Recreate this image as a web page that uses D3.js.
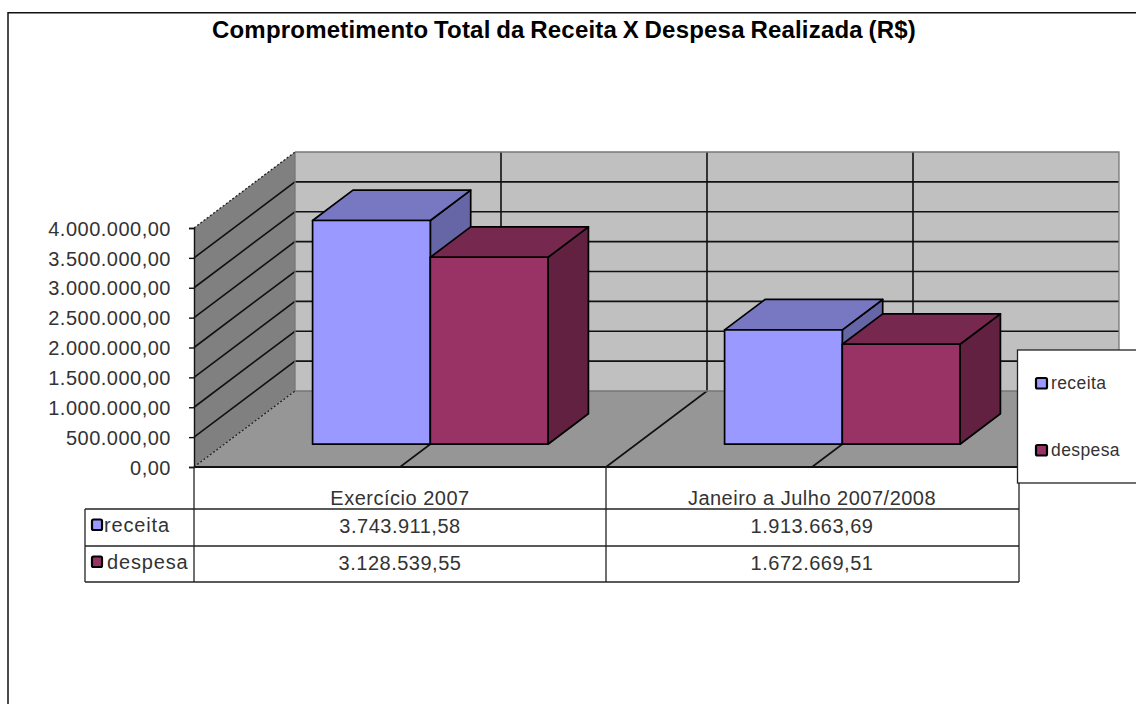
<!DOCTYPE html>
<html>
<head>
<meta charset="utf-8">
<script src="https://cdnjs.cloudflare.com/ajax/libs/d3/7.8.5/d3.min.js"></script>
<style>
  html, body { margin: 0; padding: 0; background: #fff; }
  svg { display: block; }
  text { font-family: "Liberation Sans", Arial, sans-serif; fill: #333; }
</style>
</head>
<body>
<svg id="chart" width="1136" height="704"></svg>
<script>
const title = 'Comprometimento Total da Receita X Despesa Realizada (R$)';
const categories = ['Exercício 2007', 'Janeiro a Julho 2007/2008'];
const seriesNames = ['receita', 'despesa'];
const receita = [3743911.58, 1913663.69];
const despesa = [3128539.55, 1672669.51];
const yTicks = [0, 500000, 1000000, 1500000, 2000000, 2500000, 3000000, 3500000, 4000000];

const faces = {
  receita: { front: '#9999ff', top: '#7777c2', side: '#6666a6', swatch: '#9999ff' },
  despesa: { front: '#993366', top: '#76284f', side: '#622141', swatch: '#993366' }
};

const svg = d3.select('#chart');
const fmt = new Intl.NumberFormat('pt-BR', { minimumFractionDigits: 2, maximumFractionDigits: 2 });

// scales
const y = d3.scaleLinear().domain([0, 4000000]).range([467, 228]);
const x = d3.scaleBand().domain(categories).range([194, 1018]);
const xSeries = d3.scaleBand().domain(seriesNames).range([0, x.bandwidth()]).paddingOuter(0.75).paddingInner(0);
// depth: 0 = front of the floor, 1 = back wall
const depthX = d3.scaleLinear().domain([0, 1]).range([0, 101]);
const depthY = d3.scaleLinear().domain([0, 1]).range([0, -76]);

// x pos, value and depth to screen
const pt = (px, v, d) => [px + depthX(d), y(v) + depthY(d)];
const poly = (g, pts, fill, stroke, width) => g.append('polygon')
  .attr('points', pts.map(p => p.join(',')).join(' '))
  .attr('fill', fill)
  .attr('stroke', stroke || 'none')
  .attr('stroke-width', width || 0)
  .attr('stroke-linejoin', 'round');

// outer frame
svg.append('path').attr('d', 'M8,704V12.7H1136').attr('fill', 'none').attr('stroke', '#111').attr('stroke-width', 1.5);

svg.append('text')
  .attr('x', 564).attr('y', 38)
  .attr('text-anchor', 'middle')
  .attr('font-size', 24).attr('font-weight', 'bold')
  .attr('letter-spacing', 0.2).attr('word-spacing', -1.2)
  .style('fill', '#000')
  .text(title);

// walls and floor
const left = x.range()[0], right = x.range()[1], vMax = y.domain()[1];
const walls = svg.append('g');
poly(walls, [pt(left, 0, 1), pt(right, 0, 1), pt(right, vMax, 1), pt(left, vMax, 1)], '#c0c0c0');
poly(walls, [pt(left, 0, 0), pt(left, 0, 1), pt(left, vMax, 1), pt(left, vMax, 0)], '#808080');
poly(walls, [pt(left, 0, 0), pt(right, 0, 0), pt(right, 0, 1), pt(left, 0, 1)], '#969696');

// gridlines, skipping the zero line
const line = d3.line();
const grid = svg.append('g').attr('fill', 'none').attr('stroke', '#111').attr('stroke-width', 1.6);
yTicks.slice(1, -1).forEach(t => {
  grid.append('path').attr('d', line([pt(left, t, 0), pt(left, t, 1), pt(right, t, 1)]));
});

// vertical grid lines on the back wall and floor lines
const xMarks = [];
categories.forEach(c => { xMarks.push(x(c) + x.bandwidth() / 2); xMarks.push(x(c) + x.bandwidth()); });
xMarks.pop();
xMarks.forEach(m => {
  grid.append('path').attr('d', line([pt(m, 0, 0), pt(m, 0, 1), pt(m, vMax, 1)]));
});

// outline of the walls, dashed on the diagonals
const edge = svg.append('g').attr('fill', 'none').attr('stroke', '#777').attr('stroke-width', 1.3);
edge.append('path').attr('d', line([pt(left, vMax, 1), pt(right, vMax, 1), pt(right, 0, 1)]));
edge.append('path').attr('d', line([pt(left, vMax, 1), pt(left, 0, 1), pt(right, 0, 1)]));
const dashed = svg.append('g').attr('fill', 'none').attr('stroke', '#222').attr('stroke-width', 1.3).attr('stroke-dasharray', '2,2');
dashed.append('path').attr('d', line([pt(left, vMax, 0), pt(left, vMax, 1)]));
dashed.append('path').attr('d', line([pt(left, 0, 0), pt(left, 0, 1)]));

// bars, back to front, left to right
const bars = svg.append('g');
const zFront = 0.3, zBack = 0.7;
categories.forEach((c, i) => {
  seriesNames.forEach(s => {
    const v = (s === 'receita' ? receita : despesa)[i];
    const x0 = x(c) + xSeries(s), x1 = x0 + xSeries.bandwidth();
    const g = bars.append('g');
    poly(g, [pt(x1, 0, zFront), pt(x1, 0, zBack), pt(x1, v, zBack), pt(x1, v, zFront)], faces[s].side, '#000', 1.7);
    poly(g, [pt(x0, v, zFront), pt(x1, v, zFront), pt(x1, v, zBack), pt(x0, v, zBack)], faces[s].top, '#000', 1.7);
    poly(g, [pt(x0, 0, zFront), pt(x1, 0, zFront), pt(x1, v, zFront), pt(x0, v, zFront)], faces[s].front, '#000', 1.7);
  });
});

// value axis
const yAxis = d3.axisLeft(y).tickValues(yTicks).tickFormat(d => fmt.format(d)).tickSize(5).tickPadding(18);
const axisG = svg.append('g').attr('transform', 'translate(' + left + ',0)').call(yAxis);
axisG.selectAll('text')
  .attr('font-size', 20).attr('letter-spacing', 0.5)
  .attr('dy', '0.36em')
  .style('font-family', '"Liberation Sans", Arial, sans-serif');
axisG.selectAll('line, path').attr('stroke', '#111').attr('stroke-width', 1.4);

// data table
const rowY = d3.scaleOrdinal().domain(['head', ...seriesNames]).range([467, 509, 546]);
const rowH = { head: 42, receita: 37, despesa: 36 };
const table = svg.append('g').attr('font-size', 20).attr('letter-spacing', 0.5);
const tableLines = table.append('g').attr('stroke', '#222').attr('stroke-width', 1.3).attr('fill', 'none');
const tableBottom = rowY('despesa') + rowH.despesa;
const keyLeft = 85;
tableLines.append('line').attr('x1', left).attr('x2', right + 1).attr('y1', 467).attr('y2', 467).attr('stroke-width', 1.8).attr('stroke', '#111');
tableLines.append('line').attr('x1', keyLeft).attr('x2', right + 1).attr('y1', rowY('receita')).attr('y2', rowY('receita'));
tableLines.append('line').attr('x1', keyLeft).attr('x2', right + 1).attr('y1', rowY('despesa')).attr('y2', rowY('despesa'));
tableLines.append('line').attr('x1', keyLeft).attr('x2', right + 1).attr('y1', tableBottom).attr('y2', tableBottom);
tableLines.append('line').attr('x1', keyLeft).attr('x2', keyLeft).attr('y1', rowY('receita')).attr('y2', tableBottom);
[left, x(categories[1]), right + 1].forEach(v => {
  tableLines.append('line').attr('x1', v).attr('x2', v).attr('y1', 467).attr('y2', tableBottom);
});
categories.forEach((c, i) => {
  table.append('text').attr('x', x(c) + x.bandwidth() / 2).attr('y', 505).attr('text-anchor', 'middle').text(c);
  table.append('text').attr('x', x(c) + x.bandwidth() / 2).attr('y', 533).attr('text-anchor', 'middle').text(fmt.format(receita[i]));
  table.append('text').attr('x', x(c) + x.bandwidth() / 2).attr('y', 570).attr('text-anchor', 'middle').text(fmt.format(despesa[i]));
});
seriesNames.forEach(s => {
  const yy = rowY(s);
  table.append('rect').attr('x', 92).attr('y', yy + 10.5).attr('width', 10).attr('height', 10.5).attr('rx', 1.5)
    .attr('fill', faces[s].swatch).attr('stroke', '#000').attr('stroke-width', 2.2);
  table.append('text').attr('x', s === 'receita' ? 104 : 107).attr('y', yy + 23)
    .attr('letter-spacing', 0.85).text(s);
});

// legend box
const legend = svg.append('g').attr('font-size', 17.5).attr('letter-spacing', 0.4);
legend.append('rect').attr('x', 1017.5).attr('y', 350).attr('width', 120).attr('height', 133)
  .attr('fill', '#fff').attr('stroke', '#222').attr('stroke-width', 1.3);
const legendY = d3.scalePoint().domain(seriesNames).range([383, 450]);
seriesNames.forEach(s => {
  legend.append('rect').attr('x', 1036).attr('y', legendY(s) - 5).attr('width', 11).attr('height', 10.5).attr('rx', 1.5)
    .attr('fill', faces[s].swatch).attr('stroke', '#000').attr('stroke-width', 2.2);
  legend.append('text').attr('x', 1051).attr('y', legendY(s) + 6).text(s);
});
</script>
</body>
</html>
